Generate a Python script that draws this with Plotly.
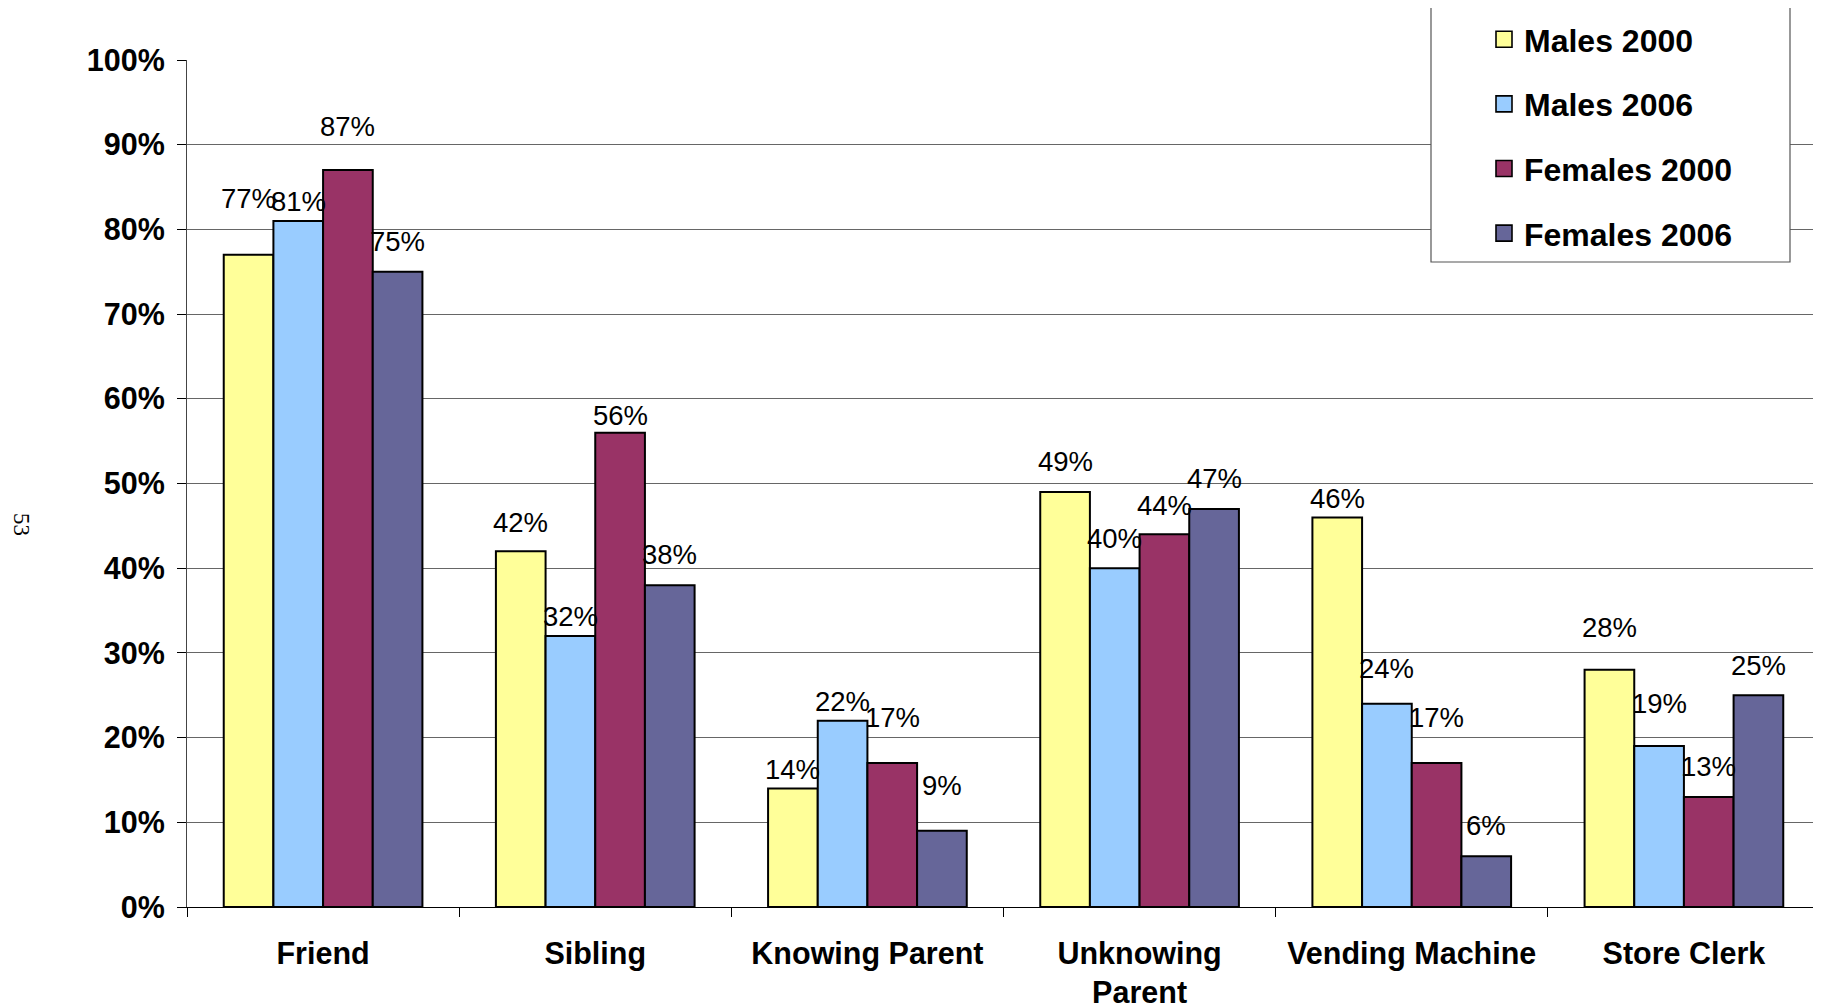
import plotly.graph_objects as go

categories = ["Friend", "Sibling", "Knowing Parent", "Unknowing<br>Parent", "Vending Machine", "Store Clerk"]
series_names = ["Males 2000", "Males 2006", "Females 2000", "Females 2006"]
males_2000 = [77, 42, 14, 49, 46, 28]
males_2006 = [81, 32, 22, 40, 24, 19]
females_2000 = [87, 56, 17, 44, 17, 13]
females_2006 = [75, 38, 9, 47, 6, 25]
y_tick_values = [0, 10, 20, 30, 40, 50, 60, 70, 80, 90, 100]
y_tick_labels = ["0%", "10%", "20%", "30%", "40%", "50%", "60%", "70%", "80%", "90%", "100%"]

series_values = [males_2000, males_2006, females_2000, females_2006]
colors = ["#FFFF99", "#99CCFF", "#993366", "#666699"]

# style: how far (px) each data label sits above its bar top, as placed in the original
label_lift_px = [
    [56, 29, 19, 30, 19, 42],
    [19, 19, 19, 30, 35, 43],
    [44, 17, 46, 29, 46, 30],
    [30, 31, 45, 30, 31, 30],
]

# page body has an 8px margin, so the figure is sized/offset to compensate
W, H = 1813, 997
ML, MR, MT, MB = 179, 1, 52, 98
plot_w = W - ML - MR
plot_h = H - MT - MB
bargap = 0.27
font = "Liberation Sans, Arial, sans-serif"


def px_x(screen_x):
    return (screen_x - 8 - ML) / plot_w


def px_y(screen_y):
    return (MT + plot_h - (screen_y - 8)) / plot_h


fig = go.Figure()
for i, (name, vals, col) in enumerate(zip(series_names, series_values, colors)):
    fig.add_trace(go.Bar(
        x=categories, y=vals, name=name, legendgroup=name, showlegend=False,
        marker=dict(color=col, line=dict(color="#000000", width=2)),
        hoverinfo="skip",
    ))
for name, col in zip(series_names, colors):
    fig.add_trace(go.Scatter(
        x=[None], y=[None], name=name, legendgroup=name, mode="markers",
        marker=dict(symbol="square", size=16, color=col, line=dict(color="#000000", width=1.6)),
        hoverinfo="skip",
    ))

cat_px = plot_w / len(categories)
bar_px = cat_px * (1 - bargap) / len(series_names)
annotations = []
for i, vals in enumerate(series_values):
    xoff = (i - (len(series_names) - 1) / 2) * bar_px
    for j, v in enumerate(vals):
        annotations.append(dict(
            x=categories[j], y=v, xref="x", yref="y", text=f"{v}%",
            showarrow=False, xshift=xoff, yshift=label_lift_px[i][j],
            yanchor="middle", xanchor="center",
            font=dict(family=font, size=27.5, color="#000000"),
        ))

annotations.append(dict(
    x=px_x(22), y=px_y(524), xref="paper", yref="paper",
    text="53", textangle=90, showarrow=False, xanchor="center", yanchor="middle",
    borderpad=0,
    font=dict(family="Liberation Serif, Times New Roman, serif", size=23, color="#000000"),
))

fig.update_layout(
    width=W, height=H,
    margin=dict(l=ML, r=MR, t=MT, b=MB, pad=0, autoexpand=False),
    paper_bgcolor="white", plot_bgcolor="white",
    barmode="group", bargap=bargap, bargroupgap=0,
    font=dict(family=font, color="#000000"),
    annotations=annotations,
    showlegend=True,
    legend=dict(
        x=px_x(1484), y=px_y(12), xanchor="left", yanchor="top",
        bgcolor="rgba(0,0,0,0)", borderwidth=0,
        font=dict(family=font, size=32, color="#000000", weight="bold"),
        traceorder="grouped", tracegroupgap=20,
    ),
    shapes=[dict(
        type="rect", xref="paper", yref="paper",
        x0=px_x(1431), x1=px_x(1790), y0=px_y(262), y1=px_y(7),
        line=dict(color="#555555", width=1.2), fillcolor="white", layer="above",
    )],
    xaxis=dict(
        tickson="boundaries", ticks="outside", ticklen=9, tickcolor="#000000",
        showline=True, linecolor="#000000", linewidth=1.2,
        showgrid=False, tickfont=dict(family=font, size=30.5, color="#000000", weight="bold"),
        ticklabelstandoff=19, fixedrange=True, automargin=False,
    ),
    yaxis=dict(
        range=[0, 100], tickvals=y_tick_values, ticktext=y_tick_labels,
        ticks="outside", ticklen=9, tickcolor="#000000",
        showline=True, linecolor="#444444", linewidth=1.2, mirror=True,
        showgrid=True, gridcolor="#666666", gridwidth=1,
        tickfont=dict(family=font, size=30.5, color="#000000", weight="bold"),
        ticklabelstandoff=6, zeroline=False, fixedrange=True, automargin=False,
    ),
)

fig.write_html("out.html")
